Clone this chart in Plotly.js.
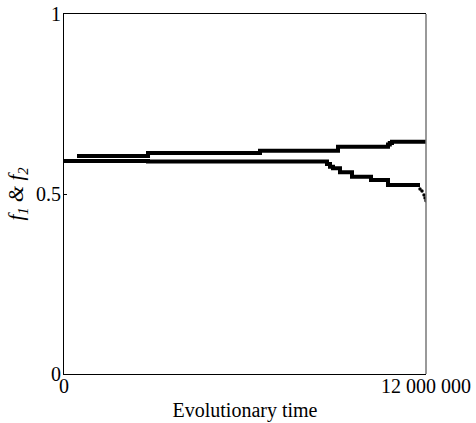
<!DOCTYPE html>
<html><head><meta charset="utf-8">
<script src="https://cdn.plot.ly/plotly-3.0.1.min.js"></script>
<style>
body{margin:0;padding:0;background:#fff}
#chart{width:476px;height:423px}
#chart svg text{font-family:"Liberation Serif","Times New Roman",Times,serif !important}
</style>
</head><body><div id="chart"></div>
<script>
// upper series (f1)
const f1X = [431000, 2785000, 6497000, 9083000, 10641000, 10740000, 10800000, 10873000, 12000000];
const f1Y = [0.6056, 0.6139, 0.6203, 0.6314, 0.6314, 0.6375, 0.6420, 0.6453, 0.6453];
// lower series (f2)
const f2X = [0, 2785000, 8718000, 8818000, 8917000, 9149000, 9547000, 10177000, 10740000, 11801000];
const f2Y = [0.5917, 0.5900, 0.5833, 0.5760, 0.5714, 0.5603, 0.5480, 0.5390, 0.5250, 0.5250];
// tail points of f2
const f2TailX = [11801000, 11867000, 11934000, 11967000, 12000000];
const f2TailY = [0.514, 0.508, 0.497, 0.489, 0.481];
const xTickVals = [0, 12000000];
const xTickText = ['0', '12 000 000'];
const yTickVals = [0, 0.5, 1];
const yTickText = ['0', '0.5', '1'];

const serif = 'Liberation Serif, Times New Roman, serif';
const traces = [
  {x: f1X, y: f1Y, mode: 'lines', line: {color: '#000', width: 4, shape: 'hv'}, hoverinfo: 'none'},
  {x: f2X, y: f2Y, mode: 'lines', line: {color: '#000', width: 4, shape: 'hv'}, hoverinfo: 'none'},
  {x: f2TailX, y: f2TailY, mode: 'markers', marker: {color: '#000', size: 3.5}, hoverinfo: 'none'}
];
const layout = {
  width: 476, height: 423,
  margin: {l: 64, r: 50, t: 14, b: 49},
  paper_bgcolor: '#fff', plot_bgcolor: '#fff',
  showlegend: false,
  font: {family: serif, color: '#000', size: 20},
  xaxis: {
    range: [0, 12000000], tickvals: xTickVals, ticktext: xTickText,
    showgrid: false, zeroline: false, showline: true, linecolor: '#000', linewidth: 1,
    mirror: true, ticks: '', tickfont: {family: serif, size: 20}, ticklabelstandoff: -6,
    title: {text: 'Evolutionary time', font: {family: serif, size: 20}, standoff: 6}
  },
  yaxis: {
    range: [0, 1], tickvals: yTickVals, ticktext: yTickText,
    showgrid: false, zeroline: false, showline: true, linecolor: '#000', linewidth: 1,
    ticks: 'inside', ticklen: 3, tickcolor: '#000', tickfont: {family: serif, size: 20},
    ticklabelstandoff: -2,
    title: {text: '<i>f<sub>1</sub> &amp; f<sub>2</sub></i>', font: {family: serif, size: 21}, standoff: 6}
  },
  shapes: [
    {type: 'line', xref: 'paper', yref: 'paper', x0: 1, x1: 1, y0: 0, y1: 1, line: {color: '#777', width: 1.5}}
  ]
};
Plotly.newPlot('chart', traces, layout, {displayModeBar: false, staticPlot: true});
</script></body></html>
